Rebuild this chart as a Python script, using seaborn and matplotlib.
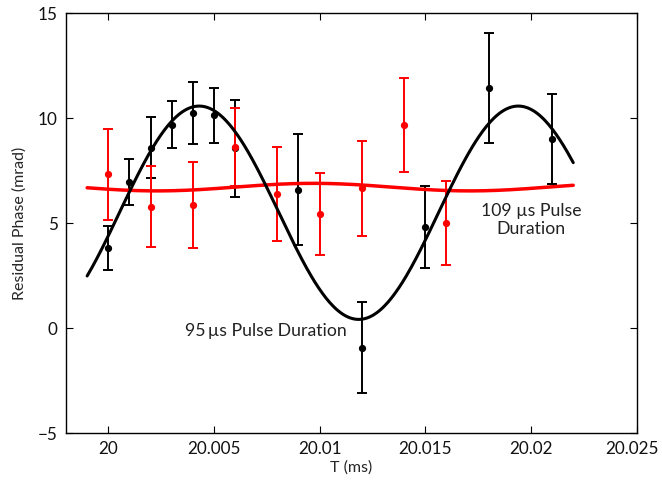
import numpy as np
import pandas as pd
import matplotlib
matplotlib.use("Agg")
import matplotlib.pyplot as plt
import matplotlib.transforms as mtransforms
import seaborn as sns

# Black series (95 us pulse duration)
t_black = [20.000, 20.001, 20.002, 20.003, 20.004, 20.005, 20.006, 20.009, 20.012, 20.015, 20.018, 20.021]
phase_black = [3.82, 6.95, 8.59, 9.68, 10.22, 10.13, 8.56, 6.59, -0.94, 4.81, 11.43, 9.02]
err_black = [1.06, 1.08, 1.46, 1.13, 1.48, 1.31, 2.30, 2.63, 2.16, 1.93, 2.62, 2.14]

# Red series (109 us pulse duration)
t_red = [20.000, 20.002, 20.004, 20.006, 20.008, 20.010, 20.012, 20.014, 20.016]
phase_red = [7.32, 5.78, 5.87, 8.62, 6.38, 5.41, 6.65, 9.67, 4.98]
err_red = [2.16, 1.92, 2.05, 1.87, 2.25, 1.95, 2.27, 2.26, 2.00]

# Sinusoidal fit parameters (offset, amplitude, time of maximum, period)
fit_black = dict(offset=5.49, amp=5.08, tmax=20.0043, period=0.0151)
fit_red = dict(offset=6.71, amp=0.18, tmax=20.0097, period=0.0148)
fit_range = (19.999, 20.022)

x_ticks = [20, 20.005, 20.01, 20.015, 20.02, 20.025]
x_ticklabels = ["20", "20.005", "20.01", "20.015", "20.02", "20.025"]
y_ticks = [-5, 0, 5, 10, 15]
y_ticklabels = ["\u22125", "0", "5", "10", "15"]

sns.set_style("ticks")
plt.rcParams["font.family"] = ["Lato", "DejaVu Sans"]
plt.rcParams["xtick.direction"] = "in"
plt.rcParams["ytick.direction"] = "in"

fig = plt.figure(figsize=(6.62, 4.83), dpi=100)
ax = fig.add_axes([0.0997, 0.1035, 0.8620, 0.8695])

tt = np.linspace(fit_range[0], fit_range[1], 400)
def fitcurve(p):
    return p["offset"] + p["amp"] * np.cos(2 * np.pi * (tt - p["tmax"]) / p["period"])

df_fit = pd.DataFrame({"t": np.concatenate([tt, tt]),
                       "y": np.concatenate([fitcurve(fit_black), fitcurve(fit_red)]),
                       "series": ["95"] * len(tt) + ["109"] * len(tt)})

ax.errorbar(t_black, phase_black, yerr=err_black, fmt="o", color="black",
            ms=4.2, elinewidth=1.4, capsize=3.5, capthick=1.4, zorder=2)
ax.errorbar(t_red, phase_red, yerr=err_red, fmt="o", color="#ff0000",
            ms=4.2, elinewidth=1.4, capsize=3.5, capthick=1.4, zorder=3)
sns.lineplot(data=df_fit[df_fit.series == "109"], x="t", y="y", color="#ff0000",
             linewidth=2.5, ax=ax, zorder=4, legend=False)
sns.lineplot(data=df_fit[df_fit.series == "95"], x="t", y="y", color="black",
             linewidth=2.2, ax=ax, zorder=5, legend=False)

ax.set_xlim(19.998, 20.025)
ax.set_ylim(-5, 15)
ax.set_xticks(x_ticks)
ax.set_xticklabels(x_ticklabels)
ax.set_yticks(y_ticks)
ax.set_yticklabels(y_ticklabels)
ax.tick_params(axis="both", which="both", top=True, right=True, length=5,
               width=0.8, labelsize=12.3, color="black", labelcolor="#111111", pad=6)
for s in ax.spines.values():
    s.set_visible(True)
    s.set_linewidth(1.0)
    s.set_color("black")

# nudge the last x tick label slightly left so it stays inside the figure
last = ax.get_xticklabels()[-1]
last.set_transform(last.get_transform() + mtransforms.ScaledTranslation(-5 / 100, 0, fig.dpi_scale_trans))

ax.set_xlabel("T (ms)", fontsize=11.5, labelpad=2)
ax.set_ylabel("Residual Phase (mrad)", fontsize=11.5, labelpad=8)

ax.text(20.00747, -0.14, "95\u2009\u00b5s Pulse Duration", ha="center", va="center",
        fontsize=12.7, color="#222222")
ax.text(20.0200, 5.14, "109 \u00b5s Pulse\nDuration", ha="center", va="center",
        fontsize=12.7, color="#222222", linespacing=1.1)

fig.savefig("out.png", dpi=100)
